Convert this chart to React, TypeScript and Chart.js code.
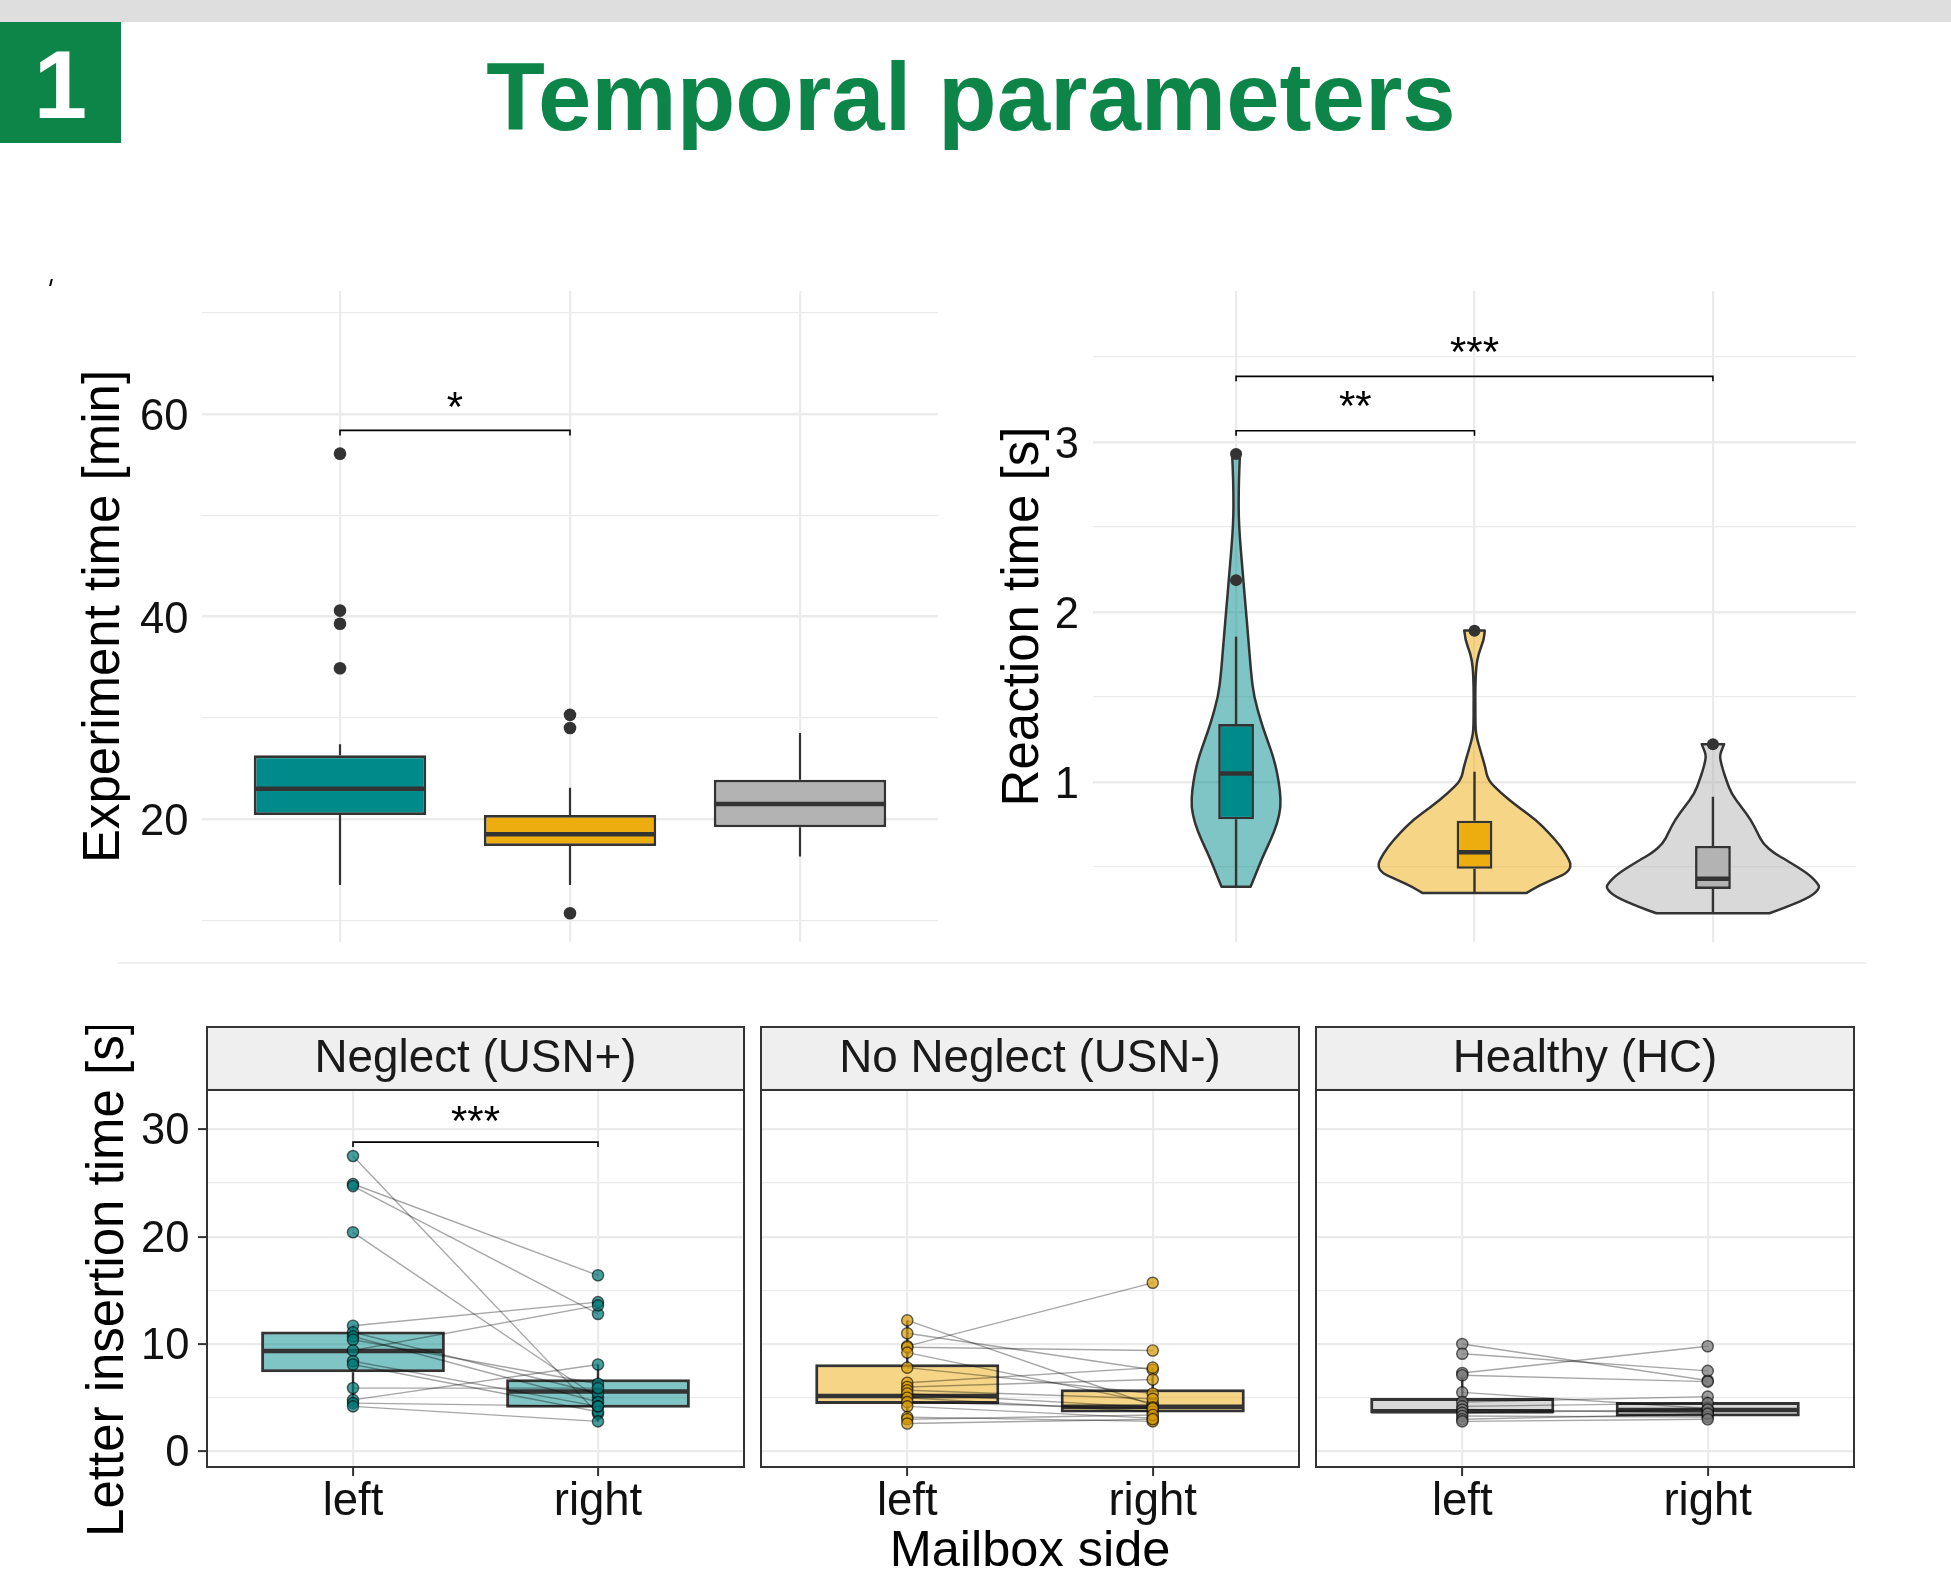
import React, { useEffect, useRef } from 'react';
import { Chart, registerables } from 'chart.js';

Chart.register(...registerables);

const FONT = "'Liberation Sans', Arial, Helvetica, sans-serif";
Chart.defaults.font.family = FONT;
Chart.defaults.color = '#111111';

const TEAL = '#008B8B';
const GOLD = '#EEAD0E';
const GREY = '#B3B3B3';
const DARK = '#333333';
const GRID = '#EBEBEB';
const BRAND = '#0D8548';
const STRIP_BG = '#EFEFEF';

// ---------------- shared categories ----------------
const groupPositions = [0, 1, 2];
const groupColors = [TEAL, GOLD, GREY];
const groupFaded = ['rgba(0,139,139,0.5)', 'rgba(238,173,14,0.5)', 'rgba(179,179,179,0.5)'];

// ---------------- Experiment time (box plot) ----------------
const expLower = [13.5, 13.5, 16.3];
const expQ1 = [20.4, 17.35, 19.2];
const expMedian = [23.0, 18.5, 21.5];
const expQ3 = [26.3, 20.4, 23.9];
const expUpper = [27.4, 23.1, 28.5];
const expOutlierGroup = [0, 0, 0, 0, 1, 1, 1];
const expOutlierValue = [56.1, 40.6, 39.3, 34.9, 30.3, 29.0, 10.7];
const expTicks = [10, 20, 30, 40, 50, 60, 70];
const expTickLabels = [20, 40, 60];
const expBracketFrom = [0];
const expBracketTo = [1];
const expBracketValue = [58.4];
const expBracketLabel = ['*'];

// ---------------- Reaction time (violin + box) ----------------
const rtLower = [0.382, 0.346, 0.226];
const rtQ1 = [0.779, 0.488, 0.369];
const rtMedian = [1.049, 0.585, 0.429];
const rtQ3 = [1.339, 0.771, 0.622];
const rtUpper = [1.853, 1.059, 0.912];
const rtOutlierGroup = [0, 0, 1, 2];
const rtOutlierValue = [2.928, 2.186, 1.888, 1.221];
const rtTicks = [0.5, 1, 1.5, 2, 2.5, 3, 3.5];
const rtTickLabels = [1, 2, 3];
const rtBracketFrom = [0, 0];
const rtBracketTo = [1, 2];
const rtBracketValue = [3.065, 3.385];
const rtBracketLabel = ['**', '***'];

const violinTealValue = [0.382, 0.461, 0.559, 0.657, 0.755, 0.853, 0.951, 1.049, 1.147, 1.245, 1.343, 1.5, 1.637, 1.834, 2.03, 2.226, 2.52, 2.716, 2.853, 2.941];
const violinTealHalf = [0.061, 0.084, 0.112, 0.145, 0.173, 0.188, 0.184, 0.173, 0.156, 0.131, 0.107, 0.075, 0.063, 0.052, 0.04, 0.028, 0.011, 0.011, 0.014, 0.017];
const violinGoldValue = [0.346, 0.38, 0.42, 0.46, 0.5, 0.539, 0.618, 0.696, 0.775, 0.853, 0.931, 1.01, 1.088, 1.167, 1.265, 1.324, 1.441, 1.559, 1.677, 1.755, 1.834, 1.889];
const violinGoldHalf = [0.219, 0.26, 0.32, 0.385, 0.405, 0.398, 0.363, 0.314, 0.258, 0.181, 0.112, 0.056, 0.045, 0.028, 0.008, 0.004, 0.0035, 0.0035, 0.007, 0.017, 0.039, 0.043];
const violinGreyValue = [0.226, 0.265, 0.324, 0.373, 0.402, 0.461, 0.539, 0.578, 0.637, 0.696, 0.774, 0.852, 0.931, 1.01, 1.069, 1.128, 1.16, 1.19, 1.221];
const violinGreyHalf = [0.237, 0.314, 0.412, 0.448, 0.44, 0.398, 0.307, 0.258, 0.209, 0.188, 0.16, 0.119, 0.077, 0.056, 0.042, 0.031, 0.03, 0.038, 0.047];

// ---------------- Letter insertion time (paired) ----------------
const sidePositions = [0, 1];
const sideLabels = ['left', 'right'];
const letterTicks = [0, 5, 10, 15, 20, 25, 30];
const letterTickLabels = [0, 10, 20, 30];

const usnPlusLeft = [27.5, 24.9, 24.7, 20.4, 11.7, 11.1, 10.7, 10.4, 9.4, 8.4, 8.1, 5.9, 4.8, 4.5, 4.2];
const usnPlusRight = [3.5, 16.4, 12.8, 5.0, 13.9, 5.4, 4.6, 6.3, 13.6, 4.2, 3.7, 5.9, 8.1, 4.2, 2.8];
const usnPlusQ1 = [7.37, 4.08];
const usnPlusMedian = [9.36, 5.57];
const usnPlusQ3 = [11.16, 6.72];
const usnPlusLower = [4.2, 2.8];
const usnPlusUpper = [11.7, 8.1];

const usnMinusLeft = [12.2, 11.0, 9.8, 9.7, 9.2, 7.8, 6.4, 6.0, 5.7, 5.4, 5.0, 4.6, 4.2, 3.2, 3.0, 2.6];
const usnMinusRight = [4.3, 7.6, 15.7, 9.4, 4.5, 5.4, 7.8, 6.7, 4.9, 4.1, 3.7, 4.0, 3.1, 2.8, 3.4, 3.0];
const usnMinusQ1 = [4.42, 3.62];
const usnMinusMedian = [5.17, 4.17];
const usnMinusQ3 = [8.12, 5.79];
const usnMinusLower = [2.6, 2.8];
const usnMinusUpper = [12.2, 7.8];

const hcLeft = [10.0, 9.1, 7.3, 7.1, 5.5, 4.6, 4.2, 3.9, 3.6, 3.3, 3.0, 2.8];
const hcRight = [6.6, 7.5, 9.8, 6.5, 4.0, 5.1, 4.5, 3.6, 3.9, 3.2, 3.5, 3.0];
const hcQ1 = [3.55, 3.25];
const hcMedian = [3.75, 3.86];
const hcQ3 = [4.98, 4.6];
const hcLower = [2.8, 3.0];
const hcUpper = [7.1, 5.1];

const usnBracketFrom = [0];
const usnBracketTo = [1];
const usnBracketValue = [28.8];
const usnBracketLabel = ['***'];

// ---------------- helpers ----------------
const setTicks = (values: number[]) => (scale: any) => {
  scale.ticks = values.map((value) => ({ value }));
};
const fixWidth = (w: number) => (scale: any) => {
  scale.width = w;
  scale.paddingTop = 0; scale.paddingBottom = 0; scale.paddingLeft = 0; scale.paddingRight = 0;
};
const fixHeight = (h: number) => (scale: any) => {
  scale.height = h;
  scale.paddingTop = 0; scale.paddingBottom = 0; scale.paddingLeft = 0; scale.paddingRight = 0;
};

function boxExtras(id: string, datasetIndex: number, q1: number[], med: number[], q3: number[], lo: number[], hi: number[], medW: number, whiskW: number) {
  return {
    id,
    afterDatasetDraw(chart: any, args: any) {
      if (args.index !== datasetIndex) return;
      const ctx = chart.ctx;
      const y = chart.scales.y;
      const meta = chart.getDatasetMeta(datasetIndex);
      ctx.save();
      ctx.strokeStyle = DARK;
      ctx.lineCap = 'butt';
      meta.data.forEach((bar: any, i: number) => {
        const { x, width } = bar.getProps(['x', 'width'], true);
        ctx.lineWidth = whiskW;
        ctx.beginPath();
        ctx.moveTo(x, y.getPixelForValue(q3[i]));
        ctx.lineTo(x, y.getPixelForValue(hi[i]));
        ctx.moveTo(x, y.getPixelForValue(q1[i]));
        ctx.lineTo(x, y.getPixelForValue(lo[i]));
        ctx.stroke();
        ctx.lineWidth = medW;
        const my = y.getPixelForValue(med[i]);
        ctx.beginPath();
        ctx.moveTo(x - width / 2 + 1, my);
        ctx.lineTo(x + width / 2 - 1, my);
        ctx.stroke();
      });
      ctx.restore();
    },
  };
}

function bracketPlugin(id: string, from: number[], to: number[], values: number[], labels: string[], gap: number) {
  return {
    id,
    afterDatasetsDraw(chart: any) {
      const { ctx } = chart;
      const x = chart.scales.x;
      const y = chart.scales.y;
      ctx.save();
      ctx.strokeStyle = '#000';
      ctx.fillStyle = '#000';
      ctx.lineWidth = 1.6;
      ctx.font = `42px ${FONT}`;
      ctx.textAlign = 'center';
      ctx.textBaseline = 'alphabetic';
      values.forEach((v, i) => {
        const x1 = x.getPixelForValue(from[i]);
        const x2 = x.getPixelForValue(to[i]);
        const py = y.getPixelForValue(v);
        ctx.beginPath();
        ctx.moveTo(x1, py + 5);
        ctx.lineTo(x1, py);
        ctx.lineTo(x2, py);
        ctx.lineTo(x2, py + 5);
        ctx.stroke();
        ctx.fillText(labels[i], (x1 + x2) / 2, py - gap);
      });
      ctx.restore();
    },
  };
}

function smoothThrough(ctx: any, pts: number[][], first: boolean) {
  if (first) ctx.moveTo(pts[0][0], pts[0][1]);
  else ctx.lineTo(pts[0][0], pts[0][1]);
  for (let i = 1; i < pts.length - 1; i++) {
    const mx = (pts[i][0] + pts[i + 1][0]) / 2;
    const my = (pts[i][1] + pts[i + 1][1]) / 2;
    ctx.quadraticCurveTo(pts[i][0], pts[i][1], mx, my);
  }
  const last = pts[pts.length - 1];
  ctx.lineTo(last[0], last[1]);
}

const violinPlugin = {
  id: 'violins',
  beforeDatasetsDraw(chart: any) {
    const ctx = chart.ctx;
    const xs = chart.scales.x;
    const ys = chart.scales.y;
    const shapes = [
      { v: violinTealValue, h: violinTealHalf },
      { v: violinGoldValue, h: violinGoldHalf },
      { v: violinGreyValue, h: violinGreyHalf },
    ];
    shapes.forEach((s, g) => {
      const cx = xs.getPixelForValue(groupPositions[g]);
      const unit = xs.getPixelForValue(groupPositions[g] + 1) - cx;
      const right = s.v.map((val, i) => [cx + s.h[i] * unit, ys.getPixelForValue(val)]);
      const left = s.v.map((val, i) => [cx - s.h[i] * unit, ys.getPixelForValue(val)]).reverse();
      ctx.save();
      ctx.beginPath();
      smoothThrough(ctx, right, true);
      smoothThrough(ctx, left, false);
      ctx.closePath();
      ctx.fillStyle = groupFaded[g];
      ctx.fill();
      ctx.lineWidth = 2.5;
      ctx.lineJoin = 'round';
      ctx.strokeStyle = DARK;
      ctx.stroke();
      ctx.restore();
    });
  },
};

const STRIP_H = 64;
const panelFramePlugin = {
  id: 'panelFrame',
  beforeDraw(chart: any) {
    const { ctx, chartArea: a } = chart;
    ctx.save();
    ctx.fillStyle = STRIP_BG;
    ctx.fillRect(a.left, a.top - STRIP_H, a.right - a.left, STRIP_H);
    ctx.restore();
  },
  afterDraw(chart: any) {
    const { ctx, chartArea: a } = chart;
    ctx.save();
    ctx.strokeStyle = DARK;
    ctx.lineWidth = 2;
    ctx.strokeRect(a.left + 1, a.top - STRIP_H + 1, a.right - a.left - 2, STRIP_H - 1);
    ctx.strokeRect(a.left + 1, a.top, a.right - a.left - 2, a.bottom - a.top - 1);
    ctx.restore();
  },
};

const baseOptions = {
  responsive: false,
  animation: false,
  devicePixelRatio: 1,
  layout: { padding: 0, autoPadding: false },
  events: [],
};

// ---------------- chart builders ----------------
function buildExperiment() {
  return {
    type: 'bar',
    data: {
      datasets: [
        {
          type: 'bar',
          data: groupPositions.map((g, i) => ({ x: g, y: [expQ1[i], expQ3[i]] })),
          backgroundColor: groupColors,
          borderColor: DARK,
          borderWidth: 2.8,
          borderSkipped: false,
          barPercentage: 0.75,
          categoryPercentage: 1,
          order: 3,
        },
        {
          type: 'scatter',
          data: expOutlierGroup.map((g, i) => ({ x: groupPositions[g], y: expOutlierValue[i] })),
          pointRadius: 6.3,
          pointBackgroundColor: DARK,
          pointBorderWidth: 0,
          order: 1,
        },
      ],
    },
    options: {
      ...baseOptions,
      plugins: { legend: { display: false }, tooltip: { enabled: false }, title: { display: false } },
      scales: {
        x: {
          type: 'linear', min: -0.6, max: 2.6, offset: false, bounds: 'data',
          afterBuildTicks: setTicks(groupPositions), afterFit: fixHeight(0),
          ticks: { display: false },
          grid: { color: GRID, lineWidth: 2.2, drawTicks: false, offset: false },
          border: { display: false },
        },
        y: {
          type: 'linear', min: 7.86, max: 72.17, bounds: 'data', beginAtZero: false,
          afterBuildTicks: setTicks(expTicks), afterFit: fixWidth(142),
          ticks: { autoSkip: false, padding: 13.5, labelOffset: 4, font: { size: 43.5 }, color: '#111',
            callback: (v: number) => (expTickLabels.includes(v) ? String(v) : '') },
          grid: { color: GRID, lineWidth: (c: any) => (expTickLabels.includes(c.tick?.value) ? 2.4 : 1.3), drawTicks: false },
          border: { display: false },
          title: { display: true, text: 'Experiment time [min]', font: { size: 51, lineHeight: 1.2 }, color: '#000', padding: { top: 14, bottom: 0 } },
        },
      },
    },
    plugins: [
      boxExtras('expBox', 0, expQ1, expMedian, expQ3, expLower, expUpper, 4.5, 2.2),
      bracketPlugin('expBracket', expBracketFrom, expBracketTo, expBracketValue, expBracketLabel, 9),
    ],
  };
}

function buildReaction() {
  return {
    type: 'bar',
    data: {
      datasets: [
        {
          type: 'bar',
          data: groupPositions.map((g, i) => ({ x: g, y: [rtQ1[i], rtQ3[i]] })),
          backgroundColor: groupColors,
          borderColor: DARK,
          borderWidth: 2.6,
          borderSkipped: false,
          barPercentage: 0.15,
          categoryPercentage: 1,
          order: 3,
        },
        {
          type: 'scatter',
          data: rtOutlierGroup.map((g, i) => ({ x: groupPositions[g], y: rtOutlierValue[i] })),
          pointRadius: 6,
          pointBackgroundColor: DARK,
          pointBorderWidth: 0,
          order: 1,
        },
      ],
    },
    options: {
      ...baseOptions,
      plugins: { legend: { display: false }, tooltip: { enabled: false }, title: { display: false } },
      scales: {
        x: {
          type: 'linear', min: -0.6, max: 2.6, offset: false, bounds: 'data',
          afterBuildTicks: setTicks(groupPositions), afterFit: fixHeight(0),
          ticks: { display: false },
          grid: { color: GRID, lineWidth: 2.2, drawTicks: false, offset: false },
          border: { display: false },
        },
        y: {
          type: 'linear', min: 0.057, max: 3.887, bounds: 'data', beginAtZero: false,
          afterBuildTicks: setTicks(rtTicks), afterFit: fixWidth(116),
          ticks: { autoSkip: false, padding: 14, labelOffset: 4, font: { size: 43.5 }, color: '#111',
            callback: (v: number) => (rtTickLabels.includes(v) ? String(v) : '') },
          grid: { color: GRID, lineWidth: (c: any) => (rtTickLabels.includes(c.tick?.value) ? 2.4 : 1.3), drawTicks: false },
          border: { display: false },
          title: { display: true, text: 'Reaction time [s]', font: { size: 51, lineHeight: 1.2 }, color: '#000', padding: { top: 16, bottom: 0 } },
        },
      },
    },
    plugins: [
      violinPlugin,
      boxExtras('rtBox', 0, rtQ1, rtMedian, rtQ3, rtLower, rtUpper, 4.5, 2.4),
      bracketPlugin('rtBracket', rtBracketFrom, rtBracketTo, rtBracketValue, rtBracketLabel, 10.5),
    ],
  };
}

interface PanelSpec {
  id: string;
  strip: string;
  leftValues: number[];
  rightValues: number[];
  q1: number[];
  med: number[];
  q3: number[];
  lo: number[];
  hi: number[];
  fill: string;
  pointFill: string;
  showY: boolean;
  showXTitle: boolean;
  bFrom: number[];
  bTo: number[];
  bValue: number[];
  bLabel: string[];
}

function buildPanel(p: PanelSpec) {
  const lines = p.leftValues.map((l, i) => ({
    type: 'line',
    data: [{ x: sidePositions[0], y: l }, { x: sidePositions[1], y: p.rightValues[i] }],
    borderColor: 'rgba(0,0,0,0.35)',
    borderWidth: 1.4,
    pointRadius: 0,
    fill: false,
    order: 2,
  }));
  const points = {
    type: 'scatter',
    data: p.leftValues.map((v) => ({ x: sidePositions[0], y: v })).concat(p.rightValues.map((v) => ({ x: sidePositions[1], y: v }))),
    pointRadius: 5.6,
    pointBackgroundColor: p.pointFill,
    pointBorderColor: 'rgba(0,0,0,0.6)',
    pointBorderWidth: 1.4,
    order: 1,
  };
  return {
    type: 'bar',
    data: {
      datasets: [
        {
          type: 'bar',
          data: sidePositions.map((s, i) => ({ x: s, y: [p.q1[i], p.q3[i]] })),
          backgroundColor: p.fill,
          borderColor: DARK,
          borderWidth: 3,
          borderSkipped: false,
          barPercentage: 0.75,
          categoryPercentage: 1,
          order: 3,
        },
        ...lines,
        points,
      ],
    },
    options: {
      ...baseOptions,
      plugins: {
        legend: { display: false },
        tooltip: { enabled: false },
        title: {
          display: true, text: p.strip, fullSize: false, color: '#1A1A1A',
          font: { size: 45.8, lineHeight: 1.1, weight: 'normal' }, padding: { top: 8.6, bottom: 5 },
        },
      },
      scales: {
        x: {
          type: 'linear', min: -0.6, max: 1.6, offset: false, bounds: 'data',
          afterBuildTicks: setTicks(sidePositions), afterFit: fixHeight(117),
          ticks: { autoSkip: false, padding: 3.5, font: { size: 45.5, lineHeight: 1 }, color: '#111', maxRotation: 0,
            callback: (v: number) => sideLabels[sidePositions.indexOf(v)] ?? '' },
          grid: { color: GRID, lineWidth: 2.2, drawTicks: true, tickLength: 8, tickColor: DARK, tickWidth: 2, offset: false },
          border: { display: false },
          title: { display: p.showXTitle, text: 'Mailbox side', font: { size: 50.5, lineHeight: 1.2 }, color: '#000', padding: { top: 0, bottom: 2.5 } },
        },
        y: {
          type: 'linear', min: -1.54, max: 33.65, bounds: 'data', beginAtZero: false,
          afterBuildTicks: setTicks(letterTicks), afterFit: fixWidth(p.showY ? 146 : 0),
          ticks: { display: p.showY, autoSkip: false, padding: 8.5, labelOffset: 3, font: { size: 43.5 }, color: '#111',
            callback: (v: number) => (letterTickLabels.includes(v) ? String(v) : '') },
          grid: {
            color: GRID,
            lineWidth: (c: any) => (letterTickLabels.includes(c.tick?.value) ? 2.2 : 1.2),
            drawTicks: p.showY, tickLength: 8, tickWidth: 2,
            tickColor: (c: any) => (letterTickLabels.includes(c.tick?.value) ? DARK : 'rgba(0,0,0,0)'),
          },
          border: { display: false },
          title: { display: p.showY, text: 'Letter insertion time [s]', font: { size: 51, lineHeight: 1.2 }, color: '#000', padding: { top: 18, bottom: 0 } },
        },
      },
    },
    plugins: [
      panelFramePlugin,
      boxExtras(p.id + 'Box', 0, p.q1, p.med, p.q3, p.lo, p.hi, 4.5, 2.4),
      bracketPlugin(p.id + 'Bracket', p.bFrom, p.bTo, p.bValue, p.bLabel, 7),
    ],
  };
}

const buildUsnPlus = () => buildPanel({
  id: 'usnPlus', strip: 'Neglect (USN+)', leftValues: usnPlusLeft, rightValues: usnPlusRight,
  q1: usnPlusQ1, med: usnPlusMedian, q3: usnPlusQ3, lo: usnPlusLower, hi: usnPlusUpper,
  fill: groupFaded[0], pointFill: 'rgba(0,120,120,0.72)', showY: true, showXTitle: false,
  bFrom: usnBracketFrom, bTo: usnBracketTo, bValue: usnBracketValue, bLabel: usnBracketLabel,
});
const buildUsnMinus = () => buildPanel({
  id: 'usnMinus', strip: 'No Neglect (USN-)', leftValues: usnMinusLeft, rightValues: usnMinusRight,
  q1: usnMinusQ1, med: usnMinusMedian, q3: usnMinusQ3, lo: usnMinusLower, hi: usnMinusUpper,
  fill: groupFaded[1], pointFill: 'rgba(215,155,10,0.72)', showY: false, showXTitle: true,
  bFrom: [], bTo: [], bValue: [], bLabel: [],
});
const buildHealthy = () => buildPanel({
  id: 'hc', strip: 'Healthy (HC)', leftValues: hcLeft, rightValues: hcRight,
  q1: hcQ1, med: hcMedian, q3: hcQ3, lo: hcLower, hi: hcUpper,
  fill: groupFaded[2], pointFill: 'rgba(120,120,120,0.72)', showY: false, showXTitle: false,
  bFrom: [], bTo: [], bValue: [], bLabel: [],
});

function ChartBox({ left, top, width, height, build }: { left: number; top: number; width: number; height: number; build: () => any }) {
  const ref = useRef<HTMLCanvasElement | null>(null);
  useEffect(() => {
    if (!ref.current) return undefined;
    const chart = new Chart(ref.current, build());
    return () => chart.destroy();
  }, [build]);
  return (
    <canvas
      ref={ref}
      width={width}
      height={height}
      style={{ position: 'absolute', left, top, width, height, display: 'block' }}
    />
  );
}

export default function App() {
  return (
    <div style={{ position: 'absolute', left: 0, top: 0, width: 1951, height: 1585, background: '#ffffff', overflow: 'hidden', fontFamily: FONT }}>
      <div style={{ position: 'absolute', left: 0, top: 0, width: 1951, height: 22, background: '#DEDEDE' }} />
      <div style={{ position: 'absolute', left: 0, top: 22, width: 121, height: 121, overflow: 'hidden', background: BRAND, color: '#ffffff', fontWeight: 700, fontSize: 96, lineHeight: '125px', textAlign: 'center' }}>1</div>
      <div style={{ position: 'absolute', left: 0, top: 47, width: 1942, textAlign: 'center', fontSize: 96, fontWeight: 700, color: BRAND, lineHeight: '100px', whiteSpace: 'nowrap' }}>Temporal parameters</div>
      <div style={{ position: 'absolute', left: 50, top: 279, width: 2, height: 7, background: '#000', transform: 'skewX(-14deg)' }} />
      <div style={{ position: 'absolute', left: 118, top: 962, width: 1748, height: 2, background: '#F0F0F0' }} />
      <ChartBox left={60} top={291} width={878} height={651} build={buildExperiment} />
      <ChartBox left={977} top={291} width={879} height={651} build={buildReaction} />
      <ChartBox left={60} top={1026} width={685} height={559} build={buildUsnPlus} />
      <ChartBox left={760} top={1026} width={540} height={559} build={buildUsnMinus} />
      <ChartBox left={1315} top={1026} width={540} height={559} build={buildHealthy} />
    </div>
  );
}
